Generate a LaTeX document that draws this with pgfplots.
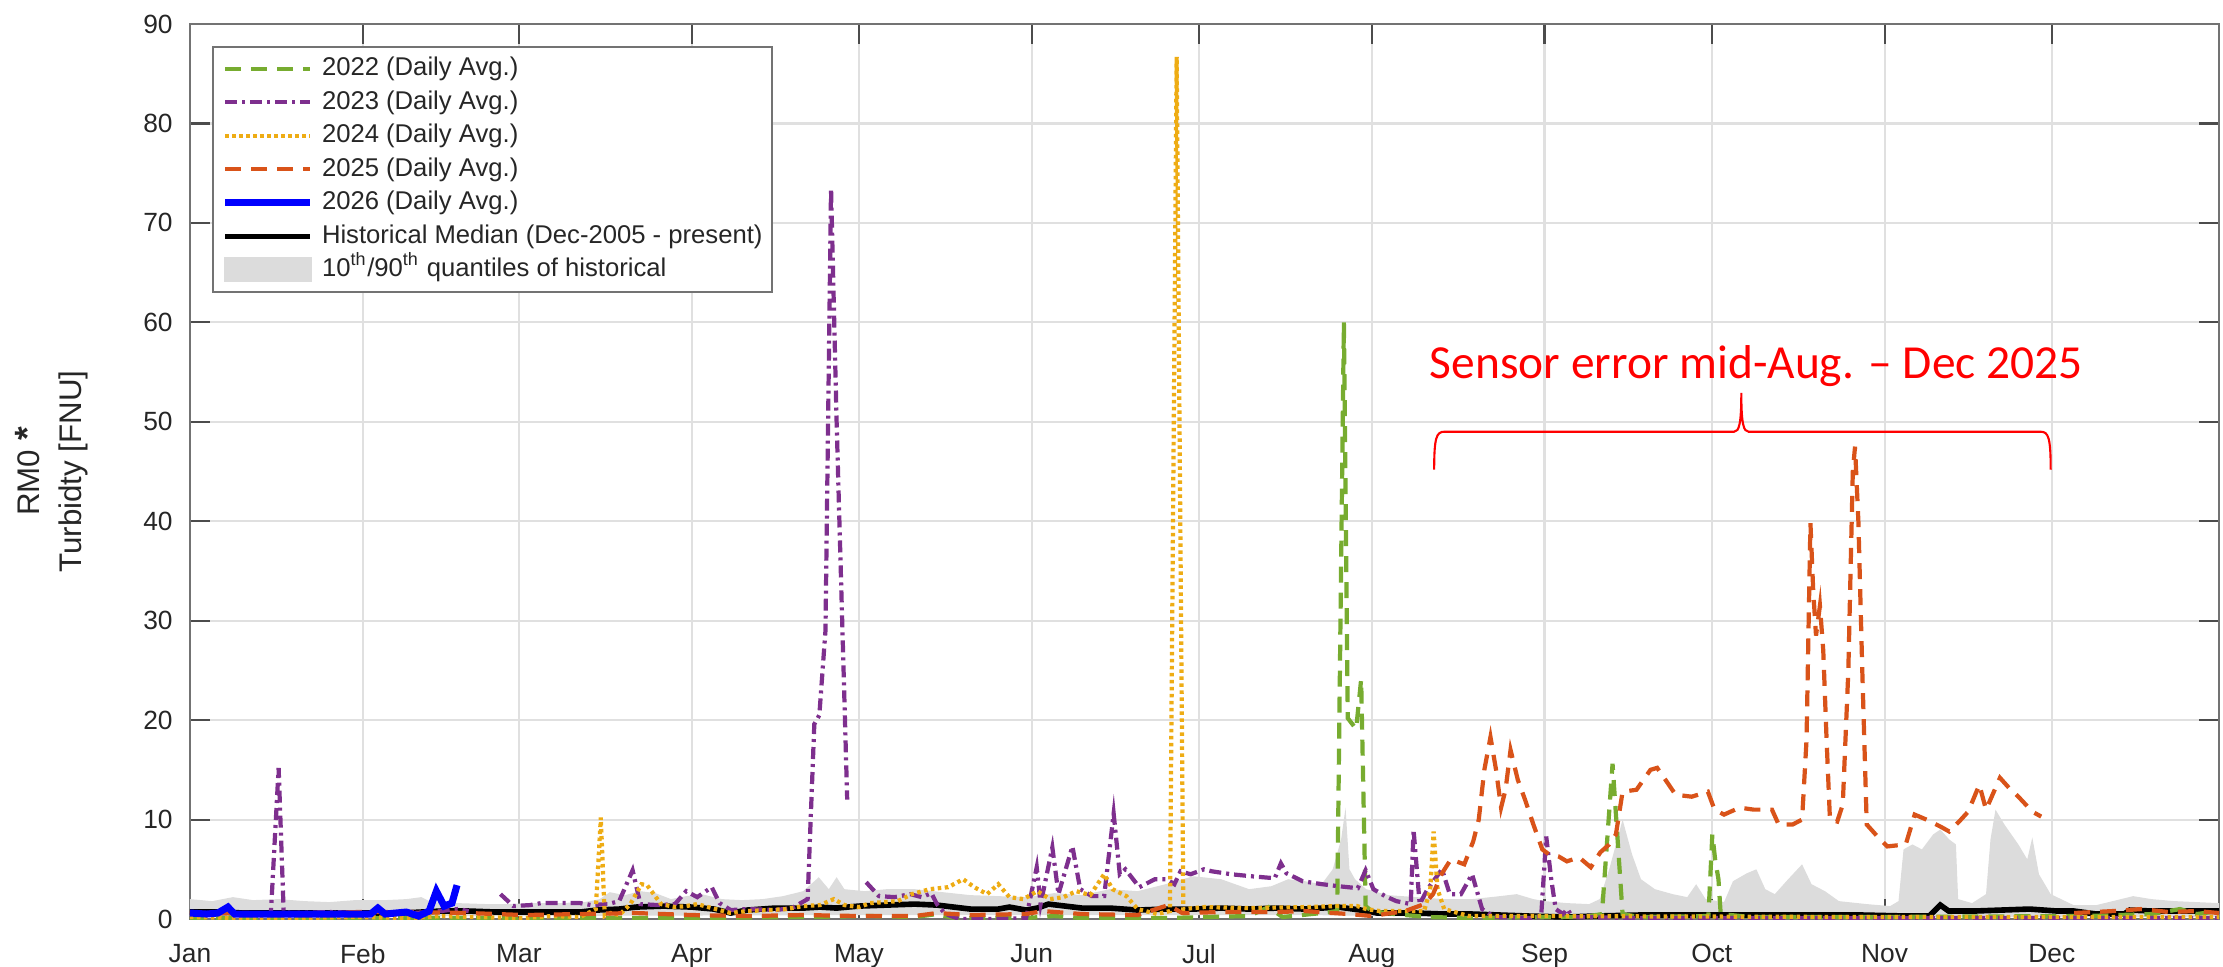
\documentclass[border=0pt]{standalone}
\usepackage{pgfplots}
\pgfplotsset{compat=1.18}
\usepgfplotslibrary{fillbetween}
\usepackage{fontspec}
\setmainfont{Liberation Sans}
\newfontfamily\carlito{Carlito}

\definecolor{c22}{RGB}{119,172,48}
\definecolor{c23}{RGB}{126,47,142}
\definecolor{c24}{RGB}{238,172,20}
\definecolor{c25}{RGB}{217,83,25}
\definecolor{c26}{RGB}{0,0,255}
\definecolor{band}{RGB}{220,220,220}
\definecolor{txt}{RGB}{38,38,38}

\begin{document}
\begin{tikzpicture}
\begin{axis}[
  at={(0,0)}, anchor=south west,
  scale only axis, width=202.9mm, height=89.5mm,
  xmin=0, xmax=364, ymin=0, ymax=90,
  xtick={0,31,59,90,120,151,181,212,243,273,304,334},
  xticklabels={Jan,Feb,Mar,Apr,May,Jun,Jul,Aug,Sep,Oct,Nov,Dec},
  ytick={0,10,...,90},
  tick align=inside, tick pos=both,
  xticklabel pos=lower, yticklabel pos=left,
  major tick length=2mm,
  grid=major,
  major grid style={draw=black!12, line width=0.6pt},
  axis line style={draw=black!55, line width=0.7pt},
  tick style={draw=black!70, line width=0.6pt},
  ticklabel style={font=\fontsize{7.5}{9}\selectfont, text=txt},
  xticklabel style={yshift=-1.3mm},
  yticklabel style={xshift=-0.5mm},
  /pgf/number format/assume math mode=true,
  ylabel={RM0 {\bfseries\fontsize{10}{11.9}\selectfont *}\\Turbidty [FNU]},
  ylabel style={font=\fontsize{8.9}{11.9}\selectfont, align=center,
    at={(axis description cs:-0.068,0.5)}, anchor=center, text=txt},
  unbounded coords=jump,
  legend cell align=left,
  legend style={at={(axis description cs:0.0108,0.9754)}, anchor=north west,
    draw=black!55, line width=0.6pt, fill=white,
    font=\fontsize{7.3}{8.8}\selectfont, text=txt,
    inner xsep=0.9mm, inner ysep=0.5mm, row sep=0pt, column sep=0.8mm,
    nodes={inner ysep=0.45mm, inner xsep=0pt, text height=1.9mm, text depth=0.55mm}},
  legend image code/.code={\draw[#1] (0mm,0mm) -- (8.5mm,0mm);},
]

% 10th / 90th quantile band
\addplot[name path=up, draw=none, forget plot] coordinates {
(0,2.0) (4,1.8) (7.7,2.2) (11.3,1.9) (15.9,2.0) (20.5,1.8) (25,1.7) (29.6,1.9) (35,1.9) (38.8,2.0)
(41.5,2.2) (43.3,1.7) (47.9,1.6) (53.4,1.5) (57,1.5) (61.6,1.6) (66.2,1.6) (70.8,1.7) (73.5,2.0)
(75.3,2.7) (78,2.4) (80.8,2.8) (83.5,2.6) (86.3,2.0) (89,2.3) (91.8,2.5) (95.4,2.0) (99,1.9)
(102.7,2.0) (106.4,2.3) (110,2.8) (112.8,4.2) (114.6,3.0) (116,4.2) (117.4,3.0) (121,2.8) (125,3.0)
(130,3.0) (140,2.4) (150,2.2) (155,2.6) (160,2.4) (165,3.0) (170,2.8) (175,3.5) (180,4.3) (185,4.0)
(190,3.0) (194,3.3) (197,4.0) (200,3.8) (203,3.5) (205,5) (206.5,8) (207.3,11.2) (208,5) (209,4)
(211,3) (215,2.4) (220,2.2) (225,2.0) (230,2.0) (235,2.3) (238,2.5) (241,2.0) (243,1.8) (247,1.6)
(251,1.5) (252.9,2.0) (254.6,5.0) (257,10) (258.7,6.5) (260.3,4.0) (262.8,3.0) (266,2.5) (268.6,2.2)
(270.2,3.5) (271.9,2.0) (275.2,1.7) (276.8,3.8) (279.3,4.6) (281,5.0) (282.6,3.0) (284.3,2.5)
(286.7,4.0) (289.2,5.5) (290.9,3.5) (293.3,2.8) (295.8,1.8) (300.8,1.5) (305,1.3) (306.5,1.8)
(307.4,7.0) (309,7.5) (310.7,7.0) (312.7,8.5) (314,9.0) (315.6,8.0) (316.8,7.5) (317.2,2.0)
(319.7,1.6) (322.2,2.5) (323,8.0) (323.9,11.0) (325.5,9.5) (328,7.5) (329.6,6.0) (330.5,8.2)
(331.7,4.5) (333.8,2.5) (337.9,1.4) (342,1.4) (348.6,2.3) (351.9,2.0) (356,1.8) (364,1.6)
};
\addplot[name path=lo, draw=none, forget plot] coordinates {
(0,0.3) (60,0.3) (120,0.4) (200,0.4) (230,0.2) (364,0.2)
};
\addplot[band, forget plot] fill between[of=up and lo];

% historical median
\addplot[black, line width=1.6pt, forget plot] coordinates {
(0,0.7) (5,0.7) (10,0.6) (20,0.6) (30,0.6) (38,0.6) (45,0.8) (50,0.8) (55,0.7) (62,0.7) (70,0.7)
(73,0.9) (77,1.0) (80,1.2) (85,1.3) (90,1.2) (94,1.0) (97,0.6) (100,0.9) (105,1.1) (110,1.1)
(113,1.2) (116,1.1) (120,1.3) (125,1.4) (130,1.5) (134,1.4) (137,1.2) (140,1.0) (145,1.0) (147,1.2)
(150,0.9) (152,1.1) (154,1.5) (157,1.3) (160,1.1) (165,1.1) (170,0.9) (175,1.0) (180,1.0) (185,1.1)
(190,1.0) (195,1.1) (200,1.0) (206,1.2) (210,0.9) (213,0.6) (220,0.6) (225,0.5) (230,0.5) (235,0.4)
(240,0.3) (247,0.2) (252,0.3) (260,0.4) (270,0.4) (280,0.4) (290,0.4) (300,0.4) (308,0.3) (312,0.3)
(314,1.4) (315.5,0.8) (320,0.8) (325,0.9) (330,1.0) (335,0.8) (338,0.8) (342,0.5) (347,0.5)
(348,0.9) (352,0.8) (358,0.8) (364,0.8)
};

% 2022
\addplot[c22, line width=1.2pt, dash pattern=on 1.6mm off 1.0mm, forget plot] coordinates {
(0,0.1) (30,0.1) (60,0.1) (90,0.1) (110,0.2) (122,0.3) (130,0.2) (134,0.5) (137,0.1) (150,0.1)
(155,0.3) (160,0.1) (175,0.1) (190,0.3) (193.5,1.2) (196,0.2) (203,0.6) (205.8,0.8) (207,60)
(207.7,20.2) (209.2,19.1) (210.1,24.1) (210.9,1.3) (212,0.8) (216,0.5) (222,0.2) (230,0.1)
(240,0.2) (250,0.2) (253.3,0.5) (255.2,15.6) (257,0.5) (260,0.2) (272.4,0.3) (273.1,8.5)
(273.6,6) (274.2,4) (274.6,0.5) (280,0.2) (300,0.2) (340,0.3) (352,0.5) (357,1.0) (360,0.5) (364,0.8)
};

% 2023
\addplot[c23, line width=1.2pt, dash pattern=on 1.2mm off 0.5mm on 0.3mm off 0.5mm, forget plot] coordinates {
(0,0.6) (5,0.6) (10,0.5) (14.5,0.5) (15.9,15.2) (16.8,0.8) (18,0.6) (25,0.7) (32,0.6) (40,0.6)
(45,0.8) (48,1.0) (50,0.8) (52,nan) (55.7,2.5) (58,1.3) (61,1.4) (63,1.6) (66,1.6) (70,1.6) (72,1.4)
(75,1.5) (77,1.8) (79.4,4.9) (80.8,1.5) (84,1.4) (87,1.5) (89,2.8) (91,2.2) (93.6,3.2) (95,1.6)
(97,0.9) (100,1.0) (105,0.9) (108,1.1) (110.8,2.0) (112,19.6) (112.9,20.5) (114,29) (115,73.5)
(116,50) (117.9,12) (119,nan) (121.3,3.7) (123.6,2.3) (126.4,2.2) (129.2,2.5) (131.3,2.2) (133,2.6)
(134,1.5) (135.5,0.5) (138,0.0) (145,0.0) (150,0.1) (151.9,5.2) (152.6,1.5) (154.7,7.2) (155.8,2.5)
(158.3,7.3) (159.7,3.0) (161.8,2.3) (164,2.3) (165.7,10.6) (166.8,4.5) (167.8,5.0) (170.3,3.2)
(173.1,4.0) (175.2,4.0) (176.6,3.5) (177.7,4.8) (179.5,4.5) (181.9,5.0) (183.3,4.8) (186.8,4.5)
(190.4,4.3) (194.6,4.1) (195.7,5.6) (196.7,4.6) (199.6,3.8) (203.1,3.5) (206,3.3) (209.5,3.1)
(210.9,4.9) (212.3,3.0) (214.4,2.3) (216.4,1.8) (219,1.5) (219.5,9.0) (220.6,1.5) (222,3.0)
(224.6,5.0) (226,2.5) (228,2.5) (230,4.5) (231.8,1.0) (234,0.2) (240.6,0.1) (242.4,0.3) (243.3,8.3)
(244.2,4) (245,1) (246.3,0.5) (247.1,1.0) (248,0.2) (260,0.1) (300,0.1) (364,0.1)
};

% 2024
\addplot[c24, line width=1.2pt, dash pattern=on 0.35mm off 0.35mm, forget plot] coordinates {
(0,0.2) (10,0.1) (20,0.1) (30,0.2) (40,0.1) (45,0.3) (50,0.2) (60,0.1) (65,0.3) (70,0.2) (72.8,1.0)
(73.7,10.2) (74.4,0.3) (75.5,0.6) (77,0.4) (79,1.5) (81,3.5) (82,3.4) (84.5,1.5) (87,1.2) (89,1.3)
(91,1.5) (93.6,1.1) (97,0.6) (100,0.8) (104,0.9) (107,1.0) (110,1.3) (113,1.4) (115.5,2.0)
(117.4,1.4) (120,1.2) (122,1.6) (127,1.8) (129.5,2.5) (132.7,3.0) (136,3.2) (138.7,4.0) (140.7,3.2)
(143,2.5) (145,3.5) (147,2.2) (149.5,2.0) (152,2.8) (154.3,2.0) (156.7,2.2) (159,2.8) (161.5,2.4)
(164,4.5) (165.5,3.0) (168,2.3) (170,1.0) (173.5,0.5) (175.8,0.8) (177,86.7) (178.2,1.0) (182,1.2)
(190,1.1) (200,1.2) (205.5,1.3) (209.4,1.3) (211,1.0) (213.4,0.8) (221.4,0.8) (222.5,3.0)
(223.1,8.8) (223.8,3.0) (225,1.0) (229.4,0.3) (240,0.3) (300,0.2) (364,0.2)
};

% 2025
\addplot[c25, line width=1.2pt, dash pattern=on 1.6mm off 1.0mm, forget plot] coordinates {
(0,0.6) (10,0.6) (20,0.5) (30,0.7) (40,0.7) (50,0.6) (60,0.4) (70,0.5) (80,0.6) (90,0.4) (100,0.3)
(110,0.4) (120,0.3) (130,0.3) (134,0.6) (140,0.4) (150,0.5) (153,0.8) (160,0.5) (170,0.4)
(175.5,1.4) (178,0.6) (185,0.7) (195,0.7) (200,0.8) (205,0.6) (208,0.5) (212,0.3) (218,0.8)
(221.4,1.5) (223,2.5) (224.5,4.5) (226.2,6.0) (228.6,5.5) (230.2,7.8) (231.2,10) (232.2,15)
(233.3,18.3) (234.3,15) (235.2,11.2) (236,13) (236.9,17) (238.2,14) (239.5,12) (241,9.5) (242.6,7)
(243.8,6.5) (245.5,6.3) (247,5.8) (249.2,6.2) (251.3,5.2) (253,6.7) (254.6,7.5) (255.8,8.5)
(257,12.8) (259.5,13.0) (262,15.0) (263.2,15.2) (265.3,13.5) (266.5,12.5) (269.4,12.3) (272.3,12.8)
(273.5,11.0) (275.2,10.5) (278,11.2) (280.5,11.0) (283.8,11.0) (285,9.5) (287.5,9.5) (289.2,10.0)
(290,18) (290.7,39.8) (291.2,33) (291.7,28.5) (292.4,31.5) (293,27) (293.6,18) (294.2,10)
(295.5,9.8) (296.5,11.5) (297.5,25) (298.3,45) (298.7,47.5) (299.3,40) (300,25) (300.8,9.5)
(303.2,8.0) (304.5,7.3) (307.8,7.5) (309.4,10.5) (311.5,10.0) (314,9.3) (315.6,8.8) (317.7,10.0)
(319,10.8) (321,13.5) (322.2,11.0) (324.7,14.2) (326.3,13.2) (328,12.3) (330.5,10.8) (332.1,10.3)
(333,nan) (338,0.6) (345,0.8) (350,1.0) (355,0.7) (360,0.8) (364,0.6)
};

% 2026
\addplot[c26, line width=2pt, forget plot] coordinates {
(0,0.6) (3,0.5) (5,0.6) (6.8,1.2) (8,0.5) (12,0.5) (20,0.5) (28,0.5) (32.4,0.5) (33.7,1.1) (35,0.5)
(38.8,0.7) (41,0.3) (42.9,0.8) (44.2,2.8) (45.6,1.3) (47,1.6) (47.9,3.4)
};

\addlegendimage{c22, line width=1.2pt, dash pattern=on 1.6mm off 1.0mm}
\addlegendentry{2022 (Daily Avg.)}
\addlegendimage{c23, line width=1.2pt, dash pattern=on 1.2mm off 0.5mm on 0.3mm off 0.5mm}
\addlegendentry{2023 (Daily Avg.)}
\addlegendimage{c24, line width=1.2pt, dash pattern=on 0.35mm off 0.35mm}
\addlegendentry{2024 (Daily Avg.)}
\addlegendimage{c25, line width=1.2pt, dash pattern=on 1.6mm off 1.0mm}
\addlegendentry{2025 (Daily Avg.)}
\addlegendimage{c26, line width=2pt}
\addlegendentry{2026 (Daily Avg.)}
\addlegendimage{black, line width=1.6pt}
\addlegendentry{Historical Median (Dec-2005 - present)}
\addlegendimage{legend image code/.code={\fill[band] (0mm,-1.15mm) rectangle (8.5mm,1.15mm);}}
\addlegendentry{10\textsuperscript{th}/90\textsuperscript{th} quantiles of historical}

% annotation
\node[anchor=base, text=red, font=\carlito\fontsize{13.5}{16}\selectfont]
  at (axis cs:281,54.4) {Sensor error mid-Aug. – Dec 2025};
\draw[red, line width=0.6pt]
  (axis cs:223.2,45.2) .. controls (axis cs:223.2,48.4) and (axis cs:223.6,49) .. (axis cs:225,49)
  -- (axis cs:277,49) .. controls (axis cs:277.9,49) and (axis cs:278.3,49.8) .. (axis cs:278.3,52.9)
  .. controls (axis cs:278.3,49.8) and (axis cs:278.7,49) .. (axis cs:279.6,49)
  -- (axis cs:332,49) .. controls (axis cs:333.4,49) and (axis cs:333.8,48.4) .. (axis cs:333.8,45.2);
\end{axis}
\pgfresetboundingbox
\path[use as bounding box] (-19mm,-4.7mm) rectangle (203.3mm,91.9mm);
\end{tikzpicture}
\end{document}
